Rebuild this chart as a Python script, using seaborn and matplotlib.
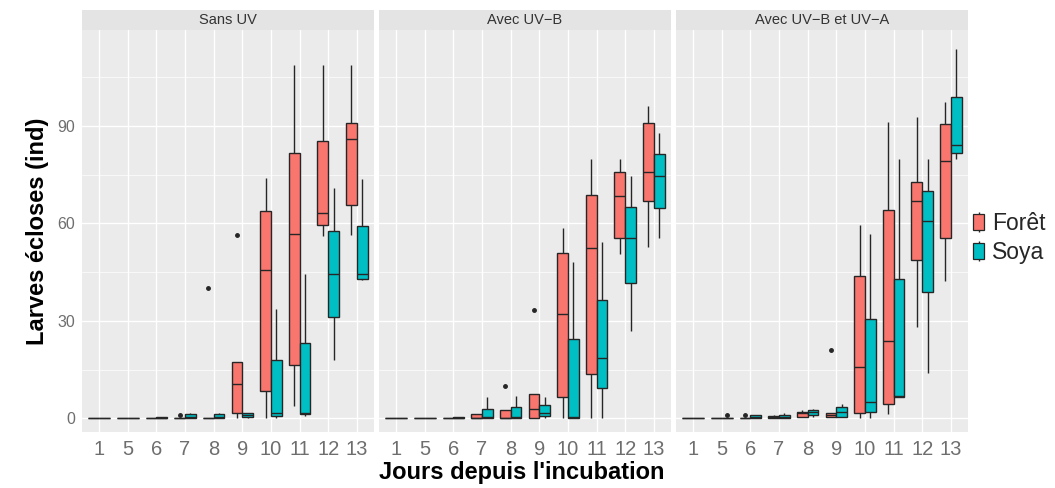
import pandas as pd
import numpy as np
import matplotlib
matplotlib.use("Agg")
import matplotlib.pyplot as plt
from matplotlib.patches import Patch, Rectangle
from matplotlib.lines import Line2D
from matplotlib.legend_handler import HandlerTuple
from matplotlib.ticker import MultipleLocator
import seaborn as sns

# Data: one list of 5 counts per box
# (min, Q1, median, Q3, max), or with an outlier as the last value
days = ["1", "5", "6", "7", "8", "9", "10", "11", "12", "13"]
panels = ["Sans UV", "Avec UV\u2212B", "Avec UV\u2212B et UV\u2212A"]
sites = ["Forêt", "Soya"]

sans_uv_foret = [[0, 0, 0, 0, 0], [0, 0, 0, 0, 0], [0, 0, 0, 0, 0], [0, 0, 0, 0, 1],
                 [0, 0, 0, 0, 40], [0, 1.8, 10.7, 17.2, 56.4], [0, 8.5, 45.6, 63.7, 74],
                 [3.8, 16.4, 56.7, 81.7, 108.6], [56.2, 59.5, 63.2, 85.3, 108.6],
                 [56.4, 65.7, 85.9, 91, 108.6]]
sans_uv_soya = [[0, 0, 0, 0, 0], [0, 0, 0, 0, 0], [0, 0, 0, 0.3, 0.5], [0, 0, 0.5, 1.2, 1.5],
                [0, 0, 0.5, 1.2, 1.5], [0, 0.3, 1, 1.5, 1.8], [0, 0.7, 1.8, 18, 33.7],
                [0.7, 1.2, 1.8, 23.1, 44.3], [18.1, 31.2, 44.3, 57.7, 70.9],
                [42.5, 43, 44.3, 59.1, 73.5]]
uvb_foret = [[0, 0, 0, 0, 0], [0, 0, 0, 0, 0], [0, 0, 0, 0, 0], [0, 0, 0, 1.2, 1.2],
             [0, 0, 0, 2.6, 10], [0, 0, 3, 7.4, 33.2], [0, 6.6, 32.2, 50.8, 58.7],
             [0, 13.6, 52.3, 68.8, 79.7], [50.5, 55.6, 68.3, 75.7, 79.7],
             [52.8, 67, 75.9, 91, 96.2]]
uvb_soya = [[0, 0, 0, 0, 0], [0, 0, 0, 0, 0], [0, 0, 0, 0.4, 0.5], [0, 0, 0.5, 3, 6.7],
            [0, 0, 0.5, 3.6, 6.9], [0, 0.7, 1.8, 4, 6.7], [0, 0, 0.5, 24.5, 48.2],
            [0, 9.2, 18.5, 36.3, 54.4], [27, 41.5, 55.6, 64.9, 74.5],
            [55.6, 64.7, 74.5, 81.4, 87.9]]
uvba_foret = [[0, 0, 0, 0, 0], [0, 0, 0, 0, 0], [0, 0, 0, 0, 1], [0, 0, 0.3, 0.8, 1],
              [0.5, 0.5, 1.5, 2, 2.5], [0.5, 0.5, 1, 1.5, 21], [0, 1.5, 15.7, 43.9, 59.5],
              [1.2, 4.3, 23.9, 64.2, 91.3], [28, 48.7, 67, 72.7, 92.6],
              [42.2, 55.6, 79.2, 90.5, 97.2]]
uvba_soya = [[0, 0, 0, 0, 0], [0, 0, 0, 0, 1], [0, 0, 0.5, 1, 1], [0, 0, 0.5, 1, 1.5],
             [0.5, 1, 2, 2.5, 3], [0.5, 0.5, 2, 3.5, 4.5], [0, 2, 4.9, 30.7, 56.7],
             [6.6, 6.6, 6.8, 43, 79.7], [14.1, 38.9, 60.6, 69.9, 79.7],
             [79.7, 81.7, 84, 99, 113.7]]

series = {
    (panels[0], "Forêt"): sans_uv_foret, (panels[0], "Soya"): sans_uv_soya,
    (panels[1], "Forêt"): uvb_foret, (panels[1], "Soya"): uvb_soya,
    (panels[2], "Forêt"): uvba_foret, (panels[2], "Soya"): uvba_soya,
}

# long table for seaborn
rows = []
for (panel, site), boxes in series.items():
    for day, vals in zip(days, boxes):
        for v in vals:
            rows.append({"panel": panel, "site": site, "jour": day, "larves": v})
df = pd.DataFrame(rows)

colors = {"Forêt": "#F8766D", "Soya": "#00BFC4"}

sns.set_theme(style="darkgrid", rc={
    "axes.facecolor": "#EBEBEB",
    "grid.color": "white",
    "grid.linewidth": 1.0,
})
plt.rcParams["font.family"] = ["Liberation Sans", "DejaVu Sans"]

fig = plt.figure(figsize=(10.55, 4.88), dpi=100)

W, H = 1055, 488
lefts = [82, 379, 676]
pw = 292
top_px, bot_px = 30, 432
strip_px = 20

axes = []
for i, panel in enumerate(panels):
    ax = fig.add_axes([lefts[i] / W, (H - bot_px) / H, pw / W, (bot_px - top_px) / H])
    axes.append(ax)
    sub = df[df["panel"] == panel]
    sns.boxplot(data=sub, x="jour", y="larves", hue="site", order=days,
                hue_order=sites, palette=colors, width=0.75, gap=0,
                saturation=1, linewidth=1.0, linecolor="#262626",
                showcaps=False, whis=1.5, legend=False, ax=ax,
                flierprops=dict(marker="o", markersize=2.5,
                                markerfacecolor="#262626",
                                markeredgecolor="#262626"))
    ax.set_xlim(-0.6, 9.6)
    ax.set_ylim(-4.2, 119.5)
    ax.yaxis.set_major_locator(MultipleLocator(30))
    ax.yaxis.set_minor_locator(MultipleLocator(15))
    ax.grid(True, which="major", color="white", linewidth=1.0)
    ax.grid(True, which="minor", axis="y", color="white", linewidth=0.5)
    ax.set_axisbelow(True)
    for s in ax.spines.values():
        s.set_visible(False)
    ax.set_xlabel("")
    ax.set_ylabel("")
    ax.tick_params(axis="x", length=3, width=0.8, color="#555555",
                   labelsize=14.5, labelcolor="#6E6E6E", pad=3)
    ax.tick_params(axis="y", which="major", length=3, width=0.8, color="#555555",
                   labelsize=11.5, labelcolor="#6E6E6E", pad=2)
    ax.tick_params(axis="y", which="minor", length=0)
    if i > 0:
        ax.tick_params(axis="y", which="major", length=0, labelleft=False)

    # strip on top of each panel
    sh = strip_px / (bot_px - top_px)
    ax.add_patch(Rectangle((0, 1), 1, sh, transform=ax.transAxes,
                           facecolor="#E4E4E4", edgecolor="none", clip_on=False))
    ax.text(0.5, 1 + sh / 2, panel, transform=ax.transAxes, ha="center",
            va="center", fontsize=10.5, color="#333333")

fig.text(38 / W, 1 - 231 / H, "Larves écloses (ind)", rotation=90,
         ha="center", va="center", fontsize=17, fontweight="bold", color="black")
fig.text(522 / W, 1 - 472 / H, "Jours depuis l'incubation",
         ha="center", va="center", fontsize=17, fontweight="bold", color="black")

# legend keys drawn like small boxplots (whisker line + box)
handles = []
for s in sites:
    whisker = Line2D([0], [0], linestyle="none", marker="|", markersize=15,
                     markeredgewidth=1.0, color="#262626")
    box = Patch(facecolor=colors[s], edgecolor="#262626", linewidth=0.9)
    handles.append((whisker, box))
fig.legend(handles, sites, loc="center left", bbox_to_anchor=(973 / W, 1 - 238 / H),
           frameon=False, fontsize=16.5, handlelength=0.5, handleheight=0.7,
           handletextpad=0.35, labelspacing=0.25, borderpad=0, borderaxespad=0,
           handler_map={tuple: HandlerTuple(ndivide=1)})

fig.savefig("out.png", dpi=100)
